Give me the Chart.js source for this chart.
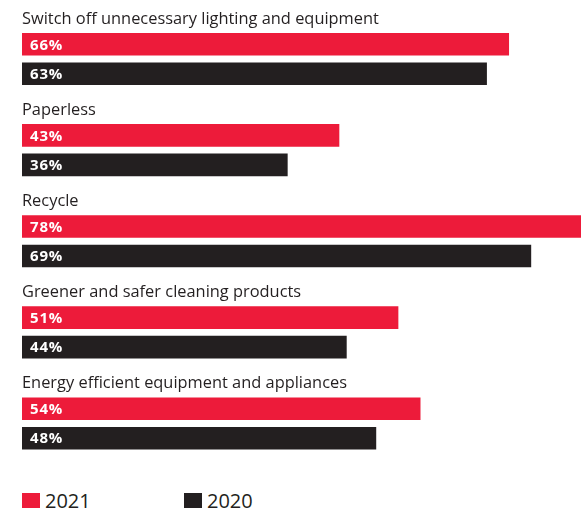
<!DOCTYPE html>
<html>
<head>
<meta charset="utf-8">
<script src="https://cdn.jsdelivr.net/npm/chart.js@4/dist/chart.umd.min.js"></script>
<style>
  body { margin: 0; background: #fff; font-family: "Open Sans", "Noto Sans", sans-serif; }
  #wrap { position: relative; width: 581px; height: 508px; overflow: hidden; }
  #chartBox { position: absolute; left: 0; top: 0; width: 581px; height: 480px; }
  .legend { position: absolute; top: 487px; display: flex; align-items: center; font-size: 20px; color: #231f20; }
  .legend span.box { display: inline-block; width: 18px; height: 19px; margin-right: 5px; margin-top: 3px; }
</style>
</head>
<body>
<div id="wrap">
  <div id="chartBox"><canvas id="barChart" width="581" height="480"></canvas></div>
  <div class="legend" style="left:22px"><span class="box" style="background:#ed1b3a"></span>2021</div>
  <div class="legend" style="left:184px"><span class="box" style="background:#231f20"></span>2020</div>
</div>
<script>
const categories = [
  'Switch off unnecessary lighting and equipment',
  'Paperless',
  'Recycle',
  'Greener and safer cleaning products',
  'Energy efficient equipment and appliances'
];
const values2021 = [66, 43, 78, 51, 54];
const values2020 = [63, 36, 69, 44, 48];
const seriesNames = ['2021', '2020'];

const RED = '#ed1b3a';
const BLACK = '#231f20';

// category titles above each pair of bars
const groupTitles = {
  id: 'groupTitles',
  afterDatasetsDraw(chart) {
    const ctx = chart.ctx;
    const y = chart.scales.y;
    ctx.save();
    ctx.font = '16.4px "Open Sans", "Noto Sans", sans-serif';
    ctx.fillStyle = '#231f20';
    ctx.textBaseline = 'middle';
    categories.forEach((c, i) => {
      ctx.fillText(c, chart.chartArea.left, y.getPixelForValue(i) - 40);
    });
    // value labels inside the bars
    ctx.font = 'bold 15px "Open Sans", "Noto Sans", sans-serif';
    ctx.letterSpacing = '0.8px';
    ctx.fillStyle = '#fff';
    chart.data.datasets.forEach((ds, di) => {
      chart.getDatasetMeta(di).data.forEach((bar, i) => {
        ctx.fillText(ds.data[i] + '%', chart.chartArea.left + 8, bar.y + 1);
      });
    });
    ctx.restore();
  }
};

new Chart(document.getElementById('barChart'), {
  type: 'bar',
  data: {
    labels: categories,
    datasets: [
      { label: seriesNames[0], data: values2021, backgroundColor: RED },
      { label: seriesNames[1], data: values2020, backgroundColor: BLACK }
    ]
  },
  options: {
    indexAxis: 'y',
    responsive: false,
    animation: false,
    layout: { padding: { left: 22, right: 0, top: 13.5, bottom: 11 } },
    datasets: { bar: { categoryPercentage: 0.648, barPercentage: 0.765 } },
    scales: {
      x: { display: false, min: 0, max: 75.75 },
      y: { display: false }
    },
    plugins: {
      legend: { display: false },
      tooltip: { enabled: false }
    }
  },
  plugins: [groupTitles]
});
</script>
</body>
</html>
